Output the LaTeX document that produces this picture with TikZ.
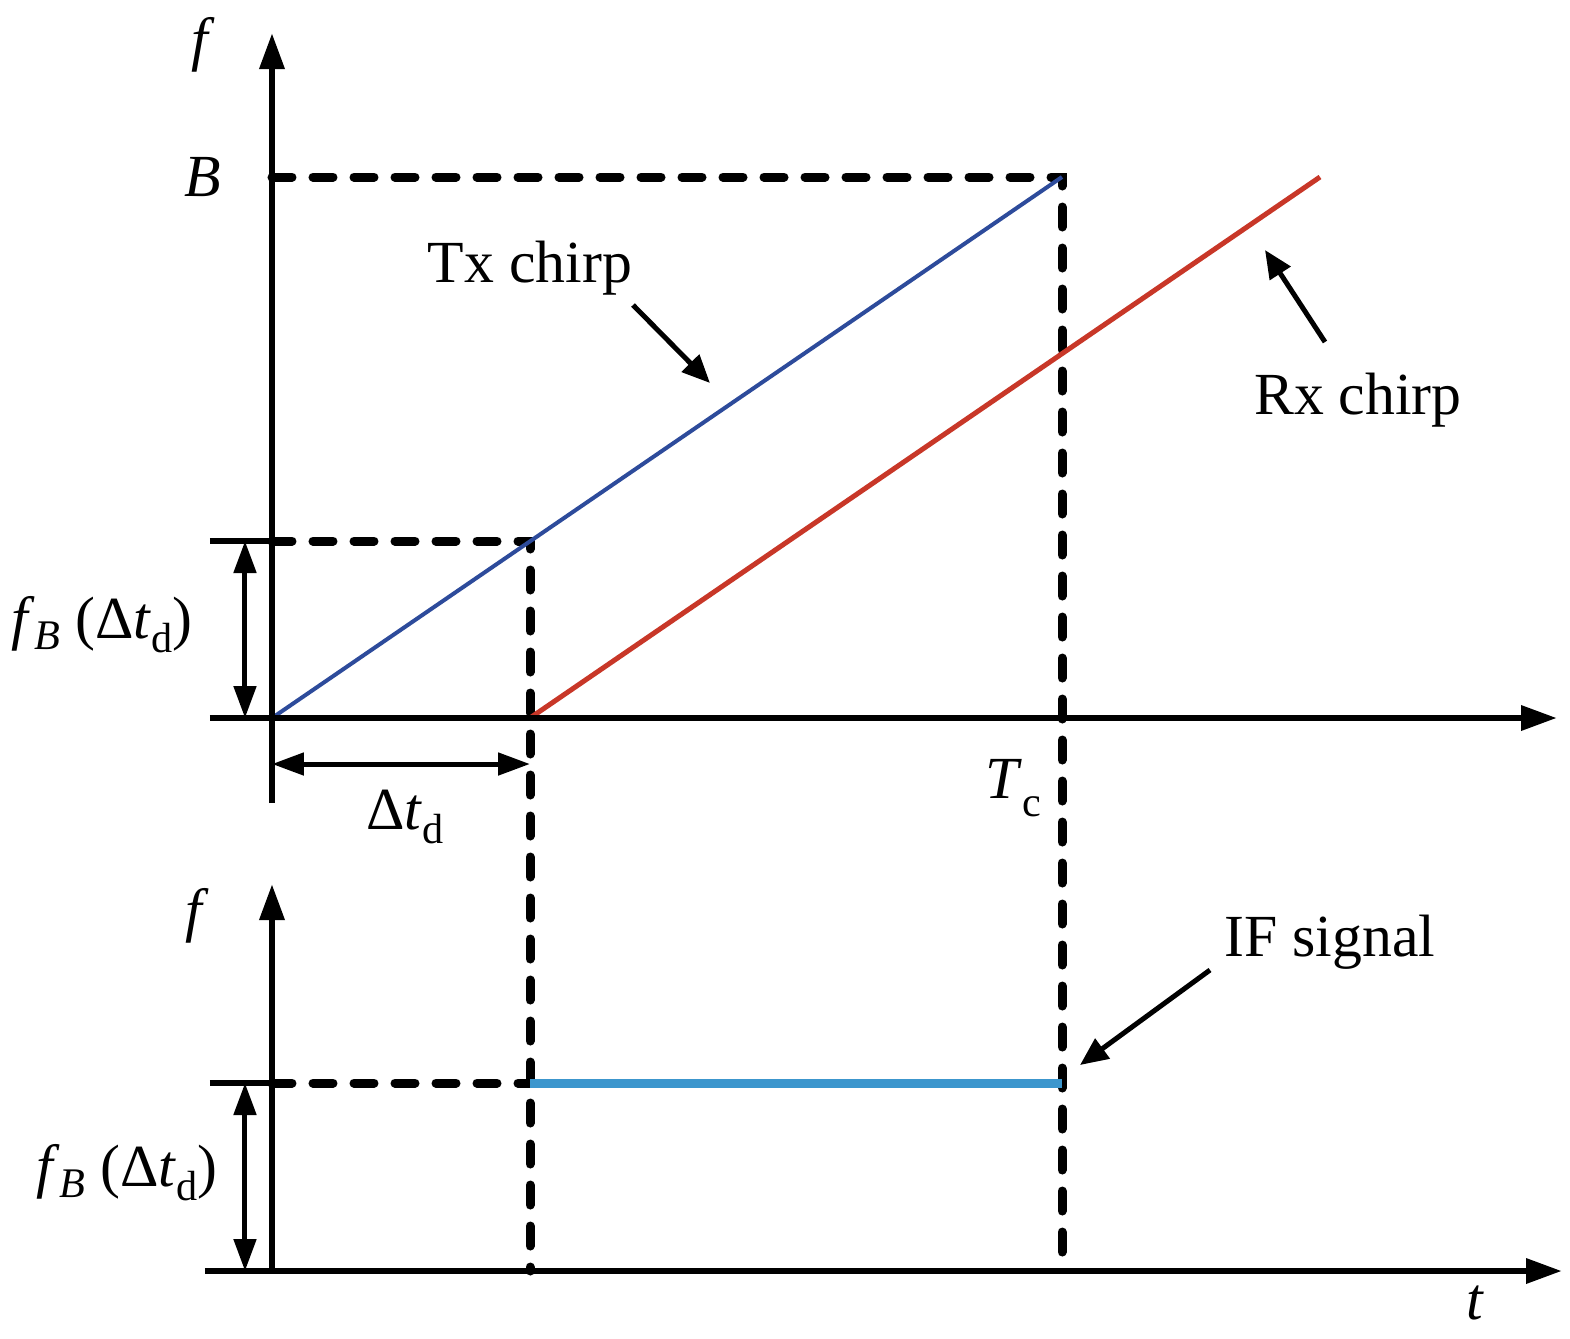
\documentclass[tikz,border=0pt]{standalone}
\usepackage{fontspec}
\setmainfont{Liberation Serif}
\usetikzlibrary{arrows.meta, calc}
\definecolor{txblue}{RGB}{45,75,155}
\definecolor{rxred}{RGB}{200,55,40}
\definecolor{ifcyan}{RGB}{60,150,205}
\newcommand{\lowsub}[2][3pt]{\raisebox{-#1}{\fontsize{12}{14}\selectfont #2}}

\begin{document}
\begin{tikzpicture}[
axis/.style={line width=0.065cm, -{Triangle[length=0.36cm, width=0.24cm]}},
guide/.style={line width=0.09cm, line cap=round, dash pattern=on 0.2cm off 0.21cm},
span/.style={line width=0.05cm, {Triangle[length=0.32cm, width=0.22cm]}-{Triangle[length=0.32cm, width=0.22cm]}},
pointer/.style={line width=0.05cm, -{Triangle[length=0.28cm, width=0.24cm]}},
lbl/.style={font=\fontsize{17}{20}\selectfont, inner sep=0pt}
]
\useasboundingbox (-2.72,-6.20) rectangle (12.98,7.18);
\coordinate (o) at (0,0);
\coordinate (xs) at (-0.62,0);
\coordinate (xe) at (12.85,0);
\coordinate (ys) at (0,-0.85);
\coordinate (ye) at (0,6.85);
\coordinate (B) at (0,5.41);
\coordinate (Bc) at (7.9,5.41);
\coordinate (Tc) at (7.9,-5.53);
\coordinate (F) at (0,1.77);
\coordinate (Fl) at (-0.62,1.77);
\coordinate (Fc) at (2.58,1.77);
\coordinate (D) at (2.58,0);
\coordinate (Dl) at (2.58,-5.53);
\coordinate (Rx) at (10.48,5.41);
\coordinate (ol) at (0,-5.53);
\coordinate (xls) at (-0.67,-5.53);
\coordinate (xle) at (12.9,-5.53);
\coordinate (yle) at (0,-1.66);
\coordinate (I) at (0,-3.65);
\coordinate (Il) at (-0.62,-3.65);
\coordinate (Ic) at (2.58,-3.65);
\coordinate (Ie) at (7.9,-3.65);
\coordinate (txa) at (3.61,4.13);
\coordinate (txb) at (4.38,3.35);
\coordinate (rxa) at (10.53,3.76);
\coordinate (rxb) at (9.93,4.68);
\coordinate (ifa) at (9.38,-2.52);
\coordinate (ifb) at (8.08,-3.47);
\draw[guide] (B)--(Bc)--(Tc);
\draw[guide] (F)--(Fc)--(Dl);
\draw[guide] (I)--(Ic);
\draw[txblue, line width=0.04cm] (o)--(Bc);
\draw[rxred, line width=0.05cm] (D)--(Rx);
\draw[ifcyan, line width=0.09cm] (Ic)--(Ie);
\draw[axis] (xs)--(xe);
\draw[axis] (ys)--(ye);
\draw[axis] (xls)--(xle);
\draw[axis] (ol)--(yle);
\draw[line width=0.065cm] (Fl)--(F);
\draw[line width=0.065cm] (Il)--(I);
\draw[span] ($(o)+(-0.27,0)$)--($(F)+(-0.27,0)$);
\draw[span] ($(ol)+(-0.27,0)$)--($(I)+(-0.27,0)$);
\draw[span] ($(o)+(0,-0.46)$)--($(D)+(0,-0.46)$);
\draw[pointer] (txa)--(txb);
\draw[pointer] (rxa)--(rxb);
\draw[pointer] (ifa)--(ifb);
\node[lbl] (f1) at (-0.69,6.73) {\textit{f}};
\node[lbl] (Blab) at (-0.69,5.41) {\textit{B}};
\node[lbl] (fb1) at (-1.70,0.93) {\textit{f}\lowsub{\textit{B}} (Δ\textit{t}\lowsub[4pt]{d})};
\node[lbl] (dt) at (1.33,-0.99) {Δ\textit{t}\lowsub[4pt]{d}};
\node[lbl] (tc) at (7.41,-0.70) {\textit{T}\lowsub[5pt]{c}};
\node[lbl] (tx) at (2.58,4.50) {Tx chirp};
\node[lbl] (rx) at (10.86,3.18) {Rx chirp};
\node[lbl] (f2) at (-0.75,-1.98) {\textit{f}};
\node[lbl] (fb2) at (-1.45,-4.55) {\textit{f}\lowsub{\textit{B}} (Δ\textit{t}\lowsub[4pt]{d})};
\node[lbl] (ifs) at (10.58,-2.24) {IF signal};
\node[lbl] (t) at (12.03,-5.85) {\textit{t}};
\end{tikzpicture}
\end{document}
